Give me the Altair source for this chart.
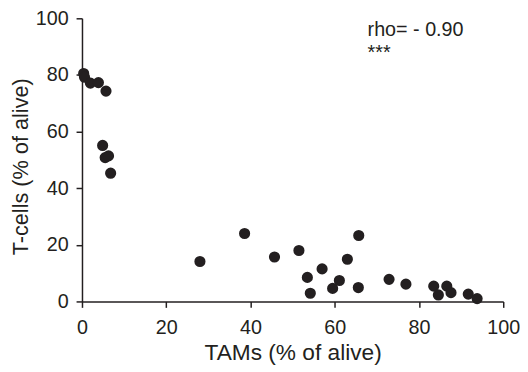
import altair as alt
import pandas as pd

tams = [0.4, 0.6, 2.0, 3.9, 5.7, 4.9, 5.5, 6.3, 6.8,
        28.0, 38.6, 45.7, 51.5, 53.5, 54.2, 57.0, 59.5, 61.1, 63.0, 65.7, 65.6,
        72.9, 76.9, 83.5, 84.6, 86.6, 87.6, 91.7, 93.8]
tcells = [80.5, 79.2, 77.1, 77.3, 74.3, 55.1, 50.8, 51.4, 45.3,
          14.1, 24.0, 15.7, 18.0, 8.5, 2.9, 11.5, 4.6, 7.4, 14.9, 23.3, 4.9,
          7.8, 6.1, 5.4, 2.3, 5.4, 3.1, 2.6, 1.0]

ann_text = ["rho= - 0.90", "***"]
ann_x = [67.8, 67.8]
ann_y = [93.7, 85.7]

df = pd.DataFrame({"TAMs": tams, "Tcells": tcells})
ann = pd.DataFrame({"x": ann_x, "y": ann_y, "t": ann_text})

FONT = "Liberation Sans"
INK = "#231f20"

xscale = alt.Scale(domain=[0, 100], nice=False, zero=False)
yscale = alt.Scale(domain=[0, 100], nice=False, zero=False)

points = alt.Chart(df).mark_circle(size=128, opacity=1, color=INK).encode(
    x=alt.X("TAMs:Q", scale=xscale,
            axis=alt.Axis(title="TAMs (% of alive)", values=[0, 20, 40, 60, 80, 100],
                          grid=False, tickSize=6, labelPadding=11, titlePadding=4)),
    y=alt.Y("Tcells:Q", scale=yscale,
            axis=alt.Axis(title="T-cells (% of alive)", values=[0, 20, 40, 60, 80, 100],
                          grid=False, tickSize=6, labelPadding=8, titlePadding=3,
                          titleY=150, titleFontSize=22)),
)

text = alt.Chart(ann).mark_text(align="left", baseline="alphabetic", font=FONT,
                                fontSize=20, color=INK).encode(
    x="x:Q", y="y:Q", text="t:N"
)

chart = (points + text).properties(
    width=427, height=287,
    autosize=alt.AutoSizeParams(type="none"),
    padding={"left": 75, "top": 8, "right": 17, "bottom": 64},
).configure_view(stroke=None).configure_axis(
    domainColor=INK, domainWidth=1.5, tickColor=INK, tickWidth=1.5,
    labelFont=FONT, labelFontSize=20, labelColor=INK,
    titleFont=FONT, titleFontSize=23, titleFontWeight="normal", titleColor=INK,
    labelFlush=False, labelOverlap=False,
)

chart.save("out.html", embed_options={"renderer": "svg", "actions": False})
